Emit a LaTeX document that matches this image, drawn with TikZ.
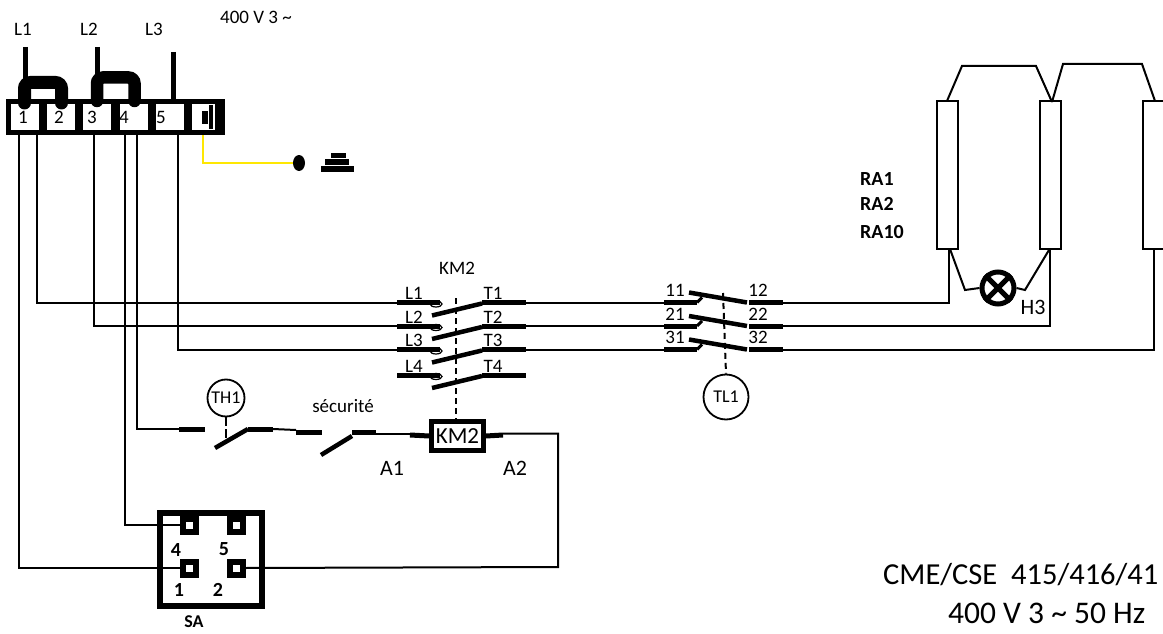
\documentclass[tikz,border=0pt]{standalone}
\usepackage{fontspec}
\setmainfont{Carlito}
\usetikzlibrary{positioning,shapes.geometric}
\tikzset{>=latex}
\tikzset{
	wire/.style={line width=2pt},
	bar/.style={line width=5pt},
	blade/.style={line width=4.5pt},
	linkdash/.style={line width=2pt, dash pattern=on 6pt off 4pt},
	cell/.style={fill=white, minimum width=28pt, minimum height=26pt, inner sep=0pt},
	pad/.style={draw, line width=6pt, fill=white, minimum size=13pt, inner sep=0pt},
	resistor/.style={draw, line width=2pt, fill=white, minimum width=21pt, minimum height=148pt, inner sep=0pt},
	relay/.style={draw, circle, line width=1.8pt, fill=white, inner sep=0pt, font=\fontsize{18}{18}\selectfont},
	lbl/.style={inner sep=0pt, font=\fontsize{19}{19}\selectfont},
	lblbold/.style={inner sep=0pt, font=\fontsize{20}{20}\selectfont\bfseries},
	biglbl/.style={inner sep=0pt, font=\fontsize{22}{22}\selectfont}
}

\begin{document}
\begin{tikzpicture}[x=1pt,y=-1pt]
	\useasboundingbox (0,0) rectangle (1163,634);

	% terminal block
	\node[fill=black, minimum width=219pt, minimum height=36pt, inner sep=0pt] (block) at (115.5,117) {};
	\node[cell] (c1) at (25,117) {};
	\node[cell] (c2) at (61,117) {};
	\node[cell] (c3) at (97,117) {};
	\node[cell] (c4) at (134,117) {};
	\node[cell] (c5) at (170,117) {};
	\node[cell, minimum width=23pt] (c6) at (203.5,117) {};
	\node[lbl] (n1) at (23,117) {1};
	\node[lbl] (n2) at (59,117) {2};
	\node[lbl] (n3) at (92,117) {3};
	\node[lbl] (n4) at (124,117) {4};
	\node[lbl] (n5) at (161,117) {5};
	\node[fill=black, minimum width=6pt, minimum height=13pt, inner sep=0pt] (gnd1) at (205,117.5) {};
	\node[fill=black, minimum width=4pt, minimum height=24pt, inner sep=0pt] (gnd2) at (211,117) {};

	% supply and jumpers
	\node[lbl] (L1) at (23,29) {L1};
	\node[lbl] (L2) at (89,29) {L2};
	\node[lbl] (L3) at (154,29) {L3};
	\node[lbl] (supply) at (256,17) {400 V 3 \textasciitilde};
	\coordinate (L1a) at (25,47);
	\coordinate (L2a) at (97,47);
	\coordinate (L3a) at (173,52);
	\coordinate (L3b) at (173,104);
	\draw[line width=5pt] (L1a) -- (25,80);
	\draw[line width=5pt] (L2a) -- (97,76);
	\draw[line width=5pt] (L3a) -- (L3b);
	\draw[line width=13pt, rounded corners=6pt, line cap=round] (24.5,103) -- (24.5,82.5) -- (61.5,82.5) -- (61.5,103);
	\draw[line width=12.5pt, rounded corners=6pt, line cap=round] (97,101) -- (97,77.5) -- (134.5,77.5) -- (134.5,101);

	% earth
	\coordinate (ye) at (203,135);
	\node[fill=black, ellipse, minimum width=12pt, minimum height=16pt, inner sep=0pt] (dot) at (299,163) {};
	\draw[line width=2pt, yellow!90!orange] (ye) |- (dot.west);
	\node[fill=black, minimum width=15pt, minimum height=5pt, inner sep=0pt] (e1) at (338,155) {};
	\node[fill=black, minimum width=24pt, minimum height=6pt, inner sep=0pt] (e2) at (337,162) {};
	\node[fill=black, minimum width=33pt, minimum height=6pt, inner sep=0pt] (e3) at (337,169) {};

	% KM2 contacts
	\node[lbl] (KM2top) at (457,268) {KM2};
	\draw[linkdash] (456,298) -- (456,420);
	\foreach \i/\yy/\la/\lb in {1/302.5/L1/T1,2/326/L2/T2,3/349.5/L3/T3,4/375/L4/T4}{
		\coordinate (in\i) at (397,\yy);
		\coordinate (out\i) at (526,\yy);
		\draw[bar] (in\i) -- (440,\yy);
		\draw[line width=1.2pt] (436,\yy+1.5) ellipse (6pt and 3pt);
		\draw[blade] (432,\yy+13) -- (482,\yy+1);
		\draw[bar] (482,\yy) -- (out\i);
		\node[lbl] (lab\la) at (414,\yy-9) {\la};
		\node[lbl] (lab\lb) at (493,\yy-9) {\lb};
	}

	% TL1 contacts
	\node[relay, minimum size=45pt] (TL1) at (726,397) {TL1};
	\draw[linkdash] (723,293) -- (TL1.north);
	\foreach \i/\yy/\la/\lb in {1/302.5/11/12,2/326/21/22,3/349.5/31/32}{
		\coordinate (a\i) at (664,\yy);
		\coordinate (b\i) at (783,\yy);
		\draw[bar] (a\i) -- (697,\yy);
		\draw[line width=3pt] (697,\yy) -- (702,\yy-5);
		\draw[blade] (689,\yy-10) -- (747,\yy);
		\draw[bar] (749,\yy) -- (b\i);
		\node[lbl] (lab\la) at (675,\yy-12) {\la};
		\node[lbl] (lab\lb) at (758,\yy-12) {\lb};
	}

	% resistors
	\node[resistor] (RA1) at (947.5,175) {};
	\node[resistor] (RA2) at (1050.5,175) {};
	\node[resistor, minimum width=26pt] (RA3) at (1156,175) {};
	\node[lblbold, anchor=west] (tRA1) at (860,179) {RA1};
	\node[lblbold, anchor=west] (tRA2) at (860,204) {RA2};
	\node[lblbold, anchor=west] (tRA10) at (860,232) {RA10};
	\draw[wire] (947,101) -- (962,66) -- (1036,66) -- (1052,102);
	\draw[wire] (1052,102) -- (1063,64) -- (1142,64) -- (1155,101);

	% lamp
	\node[draw, circle, line width=5pt, fill=white, minimum size=32pt, inner sep=0pt] (H3) at (998,288) {};
	\draw[line width=5pt] (H3.north east) -- (H3.south west);
	\draw[line width=5pt] (H3.north west) -- (H3.south east);
	\node[lbl, font=\fontsize{22}{22}\selectfont] (tH3) at (1033,307) {H3};
	\draw[wire] (950,249) -- (965,290) -- (H3.west);
	\draw[wire] (H3.east) -- (1025,290) -- (1049,250);

	% power wires
	\coordinate (w2) at (37,135);
	\coordinate (w3) at (94,135);
	\coordinate (w5) at (177.5,135);
	\draw[wire] (w2) |- (in1);
	\draw[wire] (w3) |- (in2);
	\draw[wire] (w5) |- (in3);
	\draw[wire] (out1) -- (a1);
	\draw[wire] (out2) -- (a2);
	\draw[wire] (out3) -- (a3);
	\draw[wire] (b1) -| (949,249);
	\draw[wire] (b2) -| (1050,249);
	\draw[wire] (b3) -| (1154,249);

	% control circuit
	\node[relay, minimum size=37pt] (TH1) at (226,398) {TH1};
	\draw[line width=2pt, dash pattern=on 9pt off 3pt] (TH1.south) -- (226,440);
	\coordinate (w4b) at (137,135);
	\coordinate (thA) at (179,429);
	\draw[wire] (w4b) |- (thA);
	\draw[bar] (thA) -- (205,429);
	\draw[blade] (215,448) -- (248,429);
	\draw[bar] (248,429) -- (273,429);
	\draw[wire] (273,429) -- (296,430);
	\node[lbl] (secu) at (343,406) {sécurité};
	\draw[bar] (296,432) -- (322,432);
	\draw[blade] (321,455) -- (352,436);
	\draw[bar] (352,432) -- (376,432);
	\draw[wire] (376,433.5) -- (410,433.5);
	\node[draw, line width=5pt, fill=white, minimum width=52pt, minimum height=29pt, inner sep=0pt, font=\fontsize{23}{23}\selectfont] (KM2) at (457.5,436) {KM2};
	\draw[bar] (410,435) -- (KM2.west);
	\draw[bar] (KM2.east) -- (503,435);
	\node[biglbl] (A1) at (392,468) {A1};
	\node[biglbl] (A2) at (515,468) {A2};

	% SA switch
	\node[draw, line width=6pt, minimum width=102pt, minimum height=93pt, inner sep=0pt] (SA) at (211,559.5) {};
	\node[pad] (pad4) at (189,525) {};
	\node[pad] (pad5) at (236,525) {};
	\node[pad] (pad1) at (189,568) {};
	\node[pad] (pad2) at (236,568) {};
	\node[lblbold] (t4) at (176,550) {4};
	\node[lblbold] (t5) at (224,549) {5};
	\node[lblbold] (t1) at (179,590) {1};
	\node[lblbold] (t2) at (218,590) {2};
	\node[lblbold, font=\fontsize{18}{18}\selectfont\bfseries] (tSA) at (194,622) {SA};
	\coordinate (w1) at (19,135);
	\coordinate (w4) at (124.5,135);
	\draw[wire] (w1) |- (pad1.west);
	\draw[wire] (w4) |- (pad4.west);
	\draw[wire] (pad2.east) -- (558,567) |- (503,433.5);

	% captions
	\node[inner sep=0pt, anchor=west, font=\fontsize{30.5}{30.5}\selectfont] (cme) at (883,575) {CME/CSE\ \ 415/416/41};
	\node[inner sep=0pt, anchor=west, font=\fontsize{31.5}{31.5}\selectfont] (volt) at (948,613) {400 V 3 \textasciitilde\ 50 Hz};
\end{tikzpicture}
\end{document}
